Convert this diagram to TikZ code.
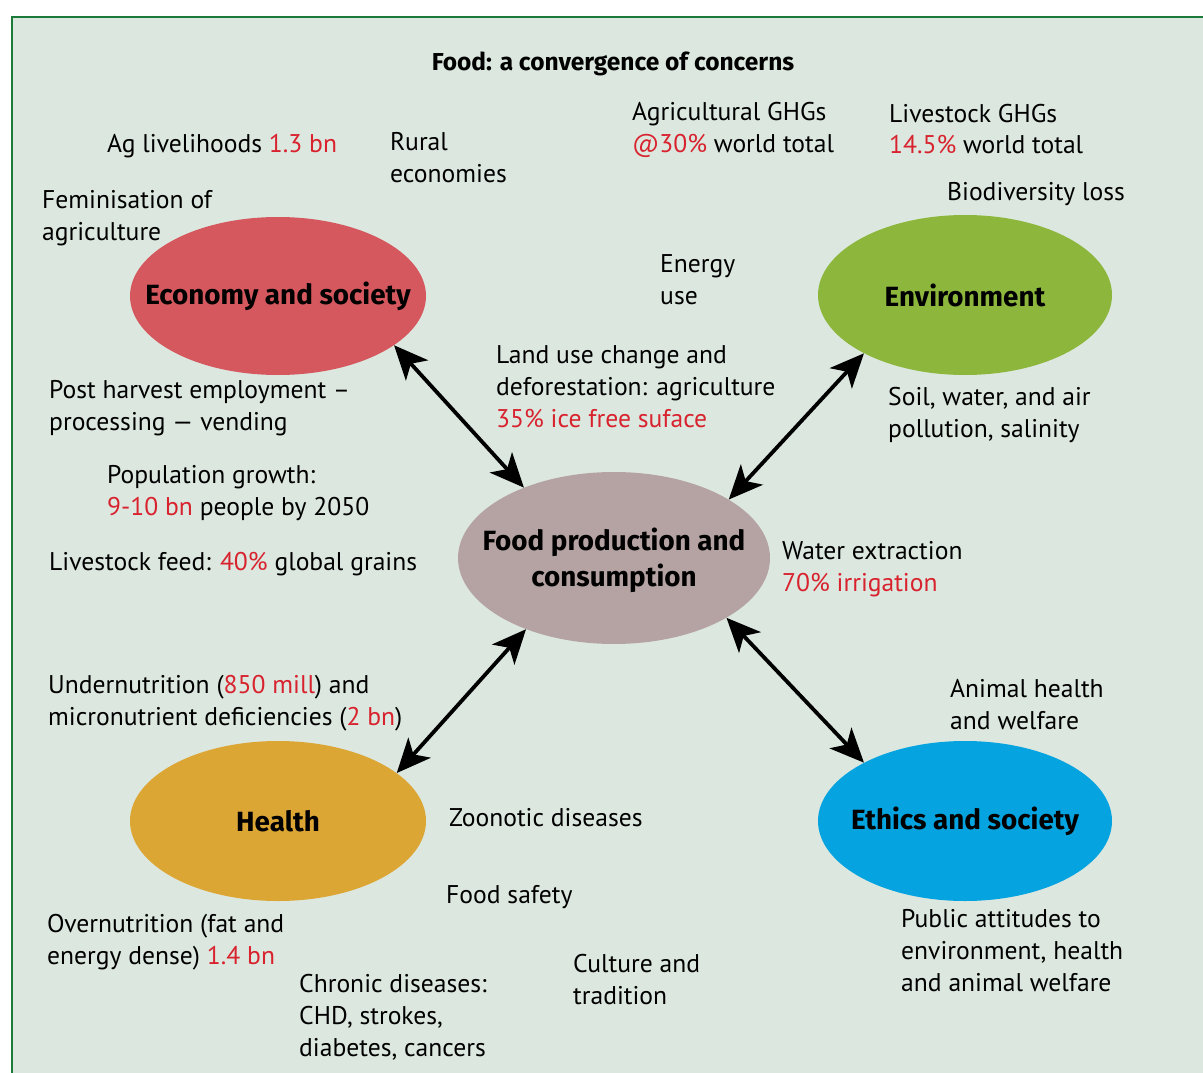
\documentclass[tikz,border=0pt]{standalone}
\usepackage{fontspec}
\setmainfont{PT Sans}
\newfontfamily\lblfont{Fira Sans}
\usetikzlibrary{arrows.meta,shapes.geometric}
\definecolor{bgfill}{HTML}{DCE8DF}
\definecolor{frameline}{HTML}{1B7B3B}
\definecolor{econc}{HTML}{D4585E}
\definecolor{envc}{HTML}{8DB63D}
\definecolor{foodc}{HTML}{B5A3A3}
\definecolor{healthc}{HTML}{DCA635}
\definecolor{ethicsc}{HTML}{05A3DF}
\definecolor{redtxt}{HTML}{D8232F}
\newcommand\redt[1]{\textcolor{redtxt}{#1}}
\newcommand\lines[1]{\begin{tabular}[t]{@{}l@{}}#1\end{tabular}}
\begin{document}
\begin{tikzpicture}[x=1pt,y=-1pt,
  txt/.style={anchor=base west,inner sep=0pt,font=\fontsize{25.6}{32}\selectfont,text=black},
  bubble/.style={ellipse,inner sep=0pt,minimum width=296pt,minimum height=158pt},
  bublbl/.style={inner sep=0pt,align=center,text=black,font=\lblfont\bfseries\fontsize{27.8}{36}\selectfont},
  headtip/.tip={Stealth[length=34pt,width=30pt,inset=9pt]},
  biarrow/.style={line width=3.8pt,headtip-headtip}]
\useasboundingbox (0,0) rectangle (1203,1073);
\clip (0,0) rectangle (1203,1073);
\fill[white] (0,0) rectangle (1203,1073);
\filldraw[fill=bgfill,draw=frameline,line width=2.5pt] (12,17) rectangle (1230,1100);

\node[anchor=base,inner sep=0pt,font=\lblfont\bfseries\fontsize{24.5}{28}\selectfont] (title) at (613,71) {Food: a convergence of concerns};

\node[bubble,fill=econc] (econ) at (278,296) {};
\node[bubble,fill=envc,minimum width=294pt,minimum height=160pt] (env) at (965,295) {};
\node[bubble,fill=foodc,minimum width=312pt,minimum height=172pt] (food) at (614,558) {};
\node[bubble,fill=healthc,minimum height=160pt] (health) at (278,821) {};
\node[bubble,fill=ethicsc,minimum width=294pt,minimum height=160pt] (ethics) at (965,821) {};

\node[bublbl] (econlbl) at (econ.center) {Economy and society};
\node[bublbl] (envlbl) at (env.center) {Environment};
\node[bublbl] (foodlbl) at (614,560) {Food production and\\consumption};
\node[bublbl] (healthlbl) at (health.center) {Health};
\node[bublbl] (ethicslbl) at (ethics.center) {Ethics and society};

\draw[biarrow] (econ.-23.2) -- (food.142);
\draw[biarrow] (env.-150.5) -- (food.27.3);
\draw[biarrow] (health.22.4) -- (food.-141.3);
\draw[biarrow] (ethics.150.7) -- (food.-28.5);

\node[txt] (agliv) at (107,152) {Ag livelihoods \redt{1.3 bn}};
\node[txt] (rural) at (390,150) {\lines{Rural\\economies}};
\node[txt] (fem) at (42,208) {\lines{Feminisation of\\agriculture}};
\node[txt] (agghg) at (632,121) {\lines{Agricultural GHGs\\\redt{@30\%} world total}};
\node[txt] (livghg) at (889,122) {\lines{Livestock GHGs\\\redt{14.5\%} world total}};
\node[txt] (biodiv) at (947,200) {Biodiversity loss};
\node[txt] (energy) at (660,272) {\lines{Energy\\use}};
\node[txt] (landuse) at (496,363) {\lines{Land use change and\\deforestation: agriculture\\\redt{35\% ice free suface}}};
\node[txt] (posth) at (49,398) {\lines{Post harvest employment –\\processing — vending}};
\node[txt] (soil) at (888,405) {\lines{Soil, water, and air\\pollution, salinity}};
\node[txt] (popg) at (107,483) {\lines{Population growth:\\\redt{9-10 bn} people by 2050}};
\node[txt] (livfeed) at (49,570) {Livestock feed: \redt{40\%} global grains};
\node[txt] (water) at (782,559) {\lines{Water extraction\\\redt{70\% irrigation}}};
\node[txt] (under) at (48,693) {\lines{Undernutrition (\redt{850 mill}) and\\micronutrient deficiencies (\redt{2 bn})}};
\node[txt] (animal) at (950,697) {\lines{Animal health\\and welfare}};
\node[txt] (zoon) at (449,826) {Zoonotic diseases};
\node[txt] (fsafe) at (446,903) {Food safety};
\node[txt] (overn) at (47,932) {\lines{Overnutrition (fat and\\energy dense) \redt{1.4 bn}}};
\node[txt] (chronic) at (299,992) {\lines{Chronic diseases:\\CHD, strokes,\\diabetes, cancers}};
\node[txt] (culture) at (573,972) {\lines{Culture and\\tradition}};
\node[txt] (public) at (901,927) {\lines{Public attitudes to\\environment, health\\and animal welfare}};
\end{tikzpicture}
\end{document}
